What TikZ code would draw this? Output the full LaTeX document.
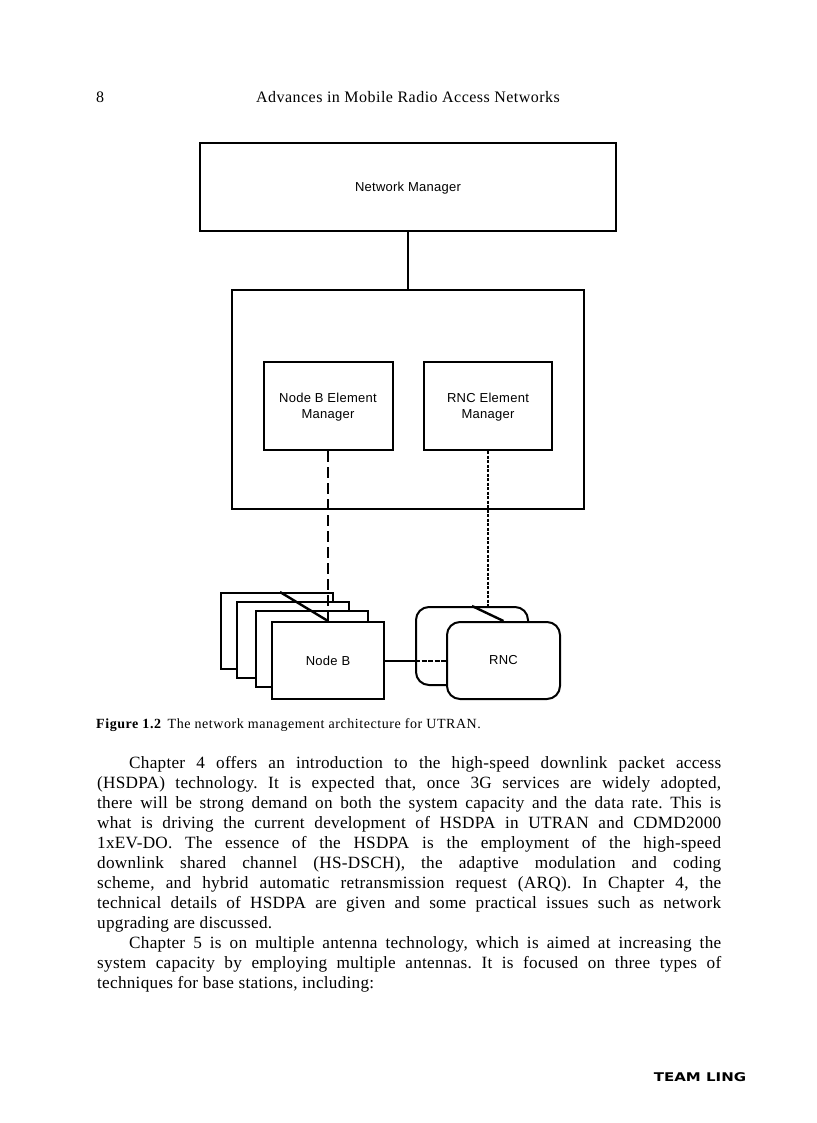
\documentclass[tikz,border=0pt]{standalone}
\usepackage{fontspec}
\setmainfont{Liberation Serif}
\newfontfamily\boxfont[LetterSpace=2]{Liberation Sans}
\newfontfamily\headfont[LetterSpace=3]{Liberation Serif}
\newfontfamily\capfont[LetterSpace=4]{Liberation Serif}
\newfontfamily\bodyfont[LetterSpace=1.5]{Liberation Serif}
\newfontfamily\teamfont{DejaVu Sans}
\newcommand{\lowerlabel}{\rule{0pt}{12pt}}
\tikzset{
  boxnode/.style={draw, line width=2pt, fill=white, inner sep=0pt, font=\boxfont\fontsize{13}{15.5}\selectfont, align=center},
  roundnode/.style={boxnode, rounded corners=13pt},
  fineline/.style={line width=1.7pt},
  slantline/.style={line width=2.4pt},
  bodytext/.style={anchor=north west, inner sep=0pt, text width=624pt, align=justify, font=\bodyfont\fontsize{17.2}{20}\selectfont\frenchspacing}
}
\begin{document}
\begin{tikzpicture}[x=1pt, y=-1pt]
  \useasboundingbox (0, 0) rectangle (816, 1123);
  \fill[white] (0, 0) rectangle (816, 1123);
  % page header
  \node[inner sep=0pt, font=\headfont\fontsize{16}{18}\selectfont] (pagenum) at (100, 97) {8};
  \node[inner sep=0pt, font=\headfont\fontsize{16}{18}\selectfont] (pagehead) at (408, 97) {Advances in Mobile Radio Access Networks};
  % managers
  \node[boxnode, minimum width=416pt, minimum height=88pt] (netmgr) at (408, 187) {\lowerlabel Network Manager};
  \node[boxnode, minimum width=352pt, minimum height=219pt] (elemgrp) at (408, 399.5) {};
  \node[boxnode, minimum width=129pt, minimum height=88pt] (nodebmgr) at (328, 406) {\lowerlabel Node B Element\\Manager};
  \node[boxnode, minimum width=128pt, minimum height=88pt] (rncmgr) at (488, 406) {\lowerlabel RNC Element\\Manager};
  % node b stack
  \node[boxnode, minimum width=112pt, minimum height=76pt] (nodebd) at (277, 631) {};
  \node[boxnode, minimum width=112pt, minimum height=76pt] (nodebc) at (293, 640) {};
  \node[boxnode, minimum width=112pt, minimum height=76pt] (nodebb) at (312, 649) {};
  \node[boxnode, minimum width=112pt, minimum height=77pt] (nodeb) at (328, 660.5) {Node B};
  % rnc stack
  \node[roundnode, minimum width=112pt, minimum height=78pt] (rncb) at (472, 646) {};
  \node[roundnode, minimum width=113pt, minimum height=77pt] (rnc) at (503.5, 660.5) {RNC};
  % connectors
  \draw[fineline] (netmgr.south) -- (elemgrp.north);
  \draw[fineline, dash pattern=on 11pt off 5pt] (nodebmgr.south) -- (nodeb.north);
  \draw[fineline, dash pattern=on 3pt off 1.5pt] (rncmgr.south) -- (rncb.north -| rncmgr.south);
  \draw[line width=2pt] (nodeb.east) -- (nodeb.east -| rncb.west);
  \draw[line width=2pt, dash pattern=on 5pt off 1.5pt] (nodeb.east -| rncb.west) -- (rnc.west);
  \draw[slantline] (nodebd.north) ++(3, 0) -- (nodeb.north);
  \draw[slantline] (rncb.north) -- (rnc.north);
  % caption and text
  \node[anchor=west, inner sep=0pt, font=\capfont\fontsize{14}{16}\selectfont] (caption) at (96, 725) {\textbf{Figure 1.2}\hspace{2pt} The network management architecture for UTRAN.};
  \node[bodytext] (body) at (97, 756.5) {\hspace*{32pt}Chapter 4 offers an introduction to the high-speed downlink packet access\linebreak
(HSDPA) technology. It is expected that, once 3G services are widely adopted,\linebreak
there will be strong demand on both the system capacity and the data rate. This is\linebreak
what is driving the current development of HSDPA in UTRAN and CDMD2000\linebreak
1xEV-DO. The essence of the HSDPA is the employment of the high-speed\linebreak
downlink shared channel (HS-DSCH), the adaptive modulation and coding\linebreak
scheme, and hybrid automatic retransmission request (ARQ). In Chapter 4, the\linebreak
technical details of HSDPA are given and some practical issues such as network\linebreak
upgrading are discussed.\par
\hspace*{32pt}Chapter 5 is on multiple antenna technology, which is aimed at increasing the\linebreak
system capacity by employing multiple antennas. It is focused on three types of\linebreak
techniques for base stations, including:\par};
  \node[xscale=1.25, inner sep=0pt, font=\teamfont\bfseries\fontsize{12}{14}\selectfont] (teamling) at (700, 1077) {TEAM LING};
\end{tikzpicture}
\end{document}
